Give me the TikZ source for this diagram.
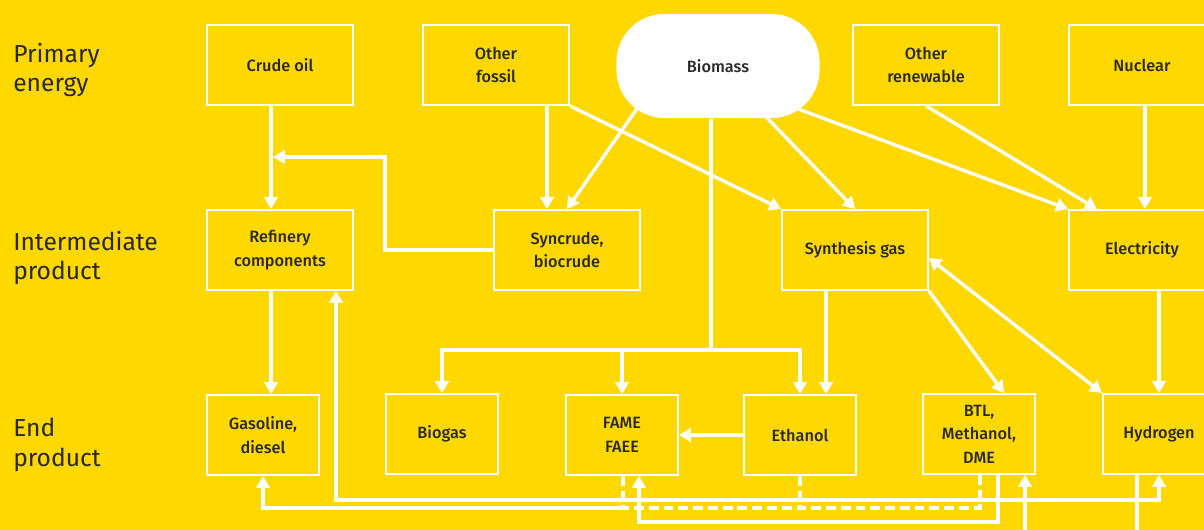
\documentclass[tikz,border=0pt]{standalone}
\usepackage{fontspec}
\setmainfont{Fira Sans}[UprightFont=* Medium]
\newfontfamily\levelfont{Fira Sans}
\usetikzlibrary{arrows.meta}
\definecolor{bgyellow}{RGB}{255,216,0}
\definecolor{txtgray}{RGB}{40,40,40}

\begin{document}
\begin{tikzpicture}[x=0.025cm, y=-0.025cm,
    box/.style={rectangle, draw=white, line width=1.3pt, text=txtgray, align=center, font=\fontsize{11.6}{16.8}\selectfont},
    topbox/.style={box, minimum width=3.65cm, minimum height=2cm},
    endbox/.style={box, minimum width=2.8cm, minimum height=2cm},
    level/.style={anchor=west, inner sep=0pt, align=left, text=txtgray, font=\levelfont\fontsize{17.5}{21}\selectfont},
    line/.style={draw=white, line width=2.4pt},
    flow/.style={line, -{Triangle[length=8.5pt, width=9.5pt]}},
    both/.style={line, {Triangle[length=8.5pt, width=9.5pt]}-{Triangle[length=8.5pt, width=9.5pt]}},
    blend/.style={line, dash pattern=on 7pt off 3.5pt}]
    \clip (0,0) rectangle (1204,530);
    \fill[bgyellow] (0,0) rectangle (1204,530);

    % levels
    \node[level] (lprimary) at (13,70) {Primary\\energy};
    \node[level] (linter) at (13,258) {Intermediate\\product};
    \node[level] (lend) at (13,445) {End\\product};

    % primary energy
    \node[topbox] (crude) at (280,65) {Crude oil};
    \node[topbox] (fossil) at (496,65) {Other\\fossil};
    \node[box, fill=white, draw=none, rounded corners=1.2cm, minimum width=5.075cm, minimum height=2.6cm] (biomass) at (718,66) {Biomass};
    \node[topbox] (renew) at (926,65) {Other\\renewable};
    \node[topbox] (nuclear) at (1142,65) {Nuclear};

    % intermediate product
    \node[topbox] (refinery) at (280,250) {Refinery\\components};
    \node[topbox] (syncrude) at (567,250) {Syncrude,\\biocrude};
    \node[topbox] (syngas) at (855,250) {Synthesis gas};
    \node[topbox] (elec) at (1142,250) {Electricity};

    % end product
    \node[endbox] (gasoline) at (263,435) {Gasoline,\\diesel};
    \node[endbox] (biogas) at (442,434) {Biogas};
    \node[endbox] (fame) at (622,435) {FAME\\FAEE};
    \node[endbox] (ethanol) at (800,435) {Ethanol};
    \node[endbox] (btl) at (979,434) {BTL,\\Methanol,\\DME};
    \node[endbox] (hydrogen) at (1159,434) {Hydrogen};

    % primary -> intermediate
    \draw[flow] (crude.south -| 271,0) -- (refinery.north -| 271,0);
    \coordinate (crudejoin) at (273,157);
    \draw[flow] (syncrude.west) -| (385,157) -- (crudejoin);
    \draw[flow] (fossil.south -| 547,0) -- (syncrude.north -| 547,0);
    \draw[flow] (fossil.south east) -- (syngas.north west);
    \draw[flow] (650,90) -- (syncrude.north);
    \draw[line] (biomass.south -| 711,0) -- (711,350) coordinate (split);
    \draw[flow] (split) -| (biogas.north);
    \draw[flow] (split) -| (ethanol.north);
    \draw[flow] (fame.north |- split) -- (fame.north);
    \draw[flow] (745,95) -- (syngas.north);
    \draw[flow] (790,106) -- (elec.north west);
    \draw[flow] (renew.south) -- (elec.north -| 1097,0);
    \draw[flow] (nuclear.south -| 1145,0) -- (elec.north -| 1145,0);

    % intermediate -> end
    \draw[flow] (refinery.south -| 271,0) -- (gasoline.north -| 271,0);
    \draw[flow] (syngas.south -| 826,0) -- (ethanol.north -| 826,0);
    \draw[flow] (syngas.south east) -- (btl.north -| 1004,0);
    \draw[both] (syngas.east |- 0,258) -- (hydrogen.north west);
    \draw[flow] (elec.south -| hydrogen.north) -- (hydrogen.north);
    \draw[flow] (ethanol.west) -- (fame.east);

    % back flows along the bottom
    \draw[both] (refinery.south -| 336,0) -- (336,500) -| (hydrogen.south);
    \draw[flow] (btl.south -| 998,0) -- (998,522) -| (fame.south -| 639,0);
    \draw[blend] (fame.south -| 623,0) -- (623,508) coordinate (mix);
    \draw[blend] (ethanol.south) -- (ethanol.south |- mix);
    \draw[blend] (btl.south -| 980,0) |- (mix);
    \draw[flow] (mix) -| (gasoline.south);
    \draw[line] (hydrogen.south -| 1137,0) -- (1137,540);
    \draw[flow] (1025,540) -- (btl.south -| 1025,0);
\end{tikzpicture}
\end{document}
